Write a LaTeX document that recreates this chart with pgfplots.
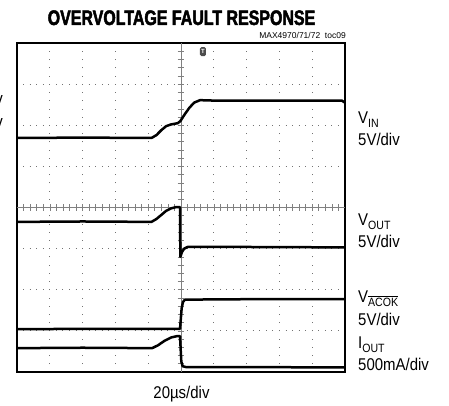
\documentclass[border=0pt]{standalone}
\usepackage{pgfplots}
\pgfplotsset{compat=1.18}
\usepackage{fontspec}
\setmainfont{Liberation Sans}
\newfontfamily\titlefont[FakeStretch=0.76,FakeBold=2.2]{Liberation Sans}
\newfontfamily\labfont[FakeStretch=0.88]{Liberation Sans}
\newcommand\sub[1]{\raisebox{-3.5pt}{\fontsize{12}{12}\selectfont #1}}
\newcommand\ovl[1]{\leavevmode\vbox{\hrule height 0.8pt \kern 1.6pt \hbox{#1}}}
\begin{document}
\begin{tikzpicture}
\path[use as bounding box] (0,0) rectangle (449pt,406pt);
\begin{axis}[
  at={(17pt,34pt)}, anchor=south west,
  width=328pt, height=329pt, scale only axis,
  xmin=0, xmax=10, ymin=0, ymax=8,
  xtick={1,...,9}, ytick={1,...,7},
  xticklabels={}, yticklabels={},
  major tick length=0pt,
  grid=major,
  x grid style={black!55, line width=0.8pt, dash pattern=on 0.9pt off 7.32pt, dash phase=0.45pt},
  y grid style={black!55, line width=0.8pt, dash pattern=on 0.9pt off 5.66pt, dash phase=0.45pt},
  axis line style={line width=2.8pt, black},
  clip=true,
]
% center cross
\draw[black!50, line width=0.6pt] (axis cs:0,4) -- (axis cs:10,4);
\draw[black!50, line width=0.6pt] (axis cs:5,0) -- (axis cs:5,8);
\pgfplotsinvokeforeach{1,...,49}{
  \draw[black!50, line width=0.6pt] (axis cs:#1*0.2,3.92) -- (axis cs:#1*0.2,4.08);
}
\pgfplotsinvokeforeach{1,...,39}{
  \draw[black!50, line width=0.6pt] (axis cs:4.9,#1*0.2) -- (axis cs:5.1,#1*0.2);
}
% VIN
\addplot[black, line width=2.5pt, line join=round] coordinates {
 (0,5.69) (2,5.70) (4.1,5.69) (4.25,5.76) (4.4,5.88) (4.55,5.98) (4.7,6.02) (4.9,6.05) (4.98,6.10)
 (5.1,6.25) (5.25,6.42) (5.4,6.55) (5.58,6.61) (6,6.60) (8,6.60) (9.9,6.60) (10,6.55)};
% VOUT
\addplot[black, line width=2.5pt, line join=round] coordinates {
 (0,3.65) (2,3.66) (4.1,3.65) (4.25,3.72) (4.4,3.82) (4.55,3.92) (4.7,3.98) (4.85,4.01) (4.97,4.01)
 (4.98,2.80) (5.03,2.92) (5.1,3.00) (5.2,3.04) (7,3.04) (10,3.03)};
% VACOK
\addplot[black, line width=2.5pt, line join=round] coordinates {
 (0,1.04) (2,1.05) (4.97,1.05) (4.99,1.25) (5.02,1.55) (5.06,1.70) (5.12,1.76) (7,1.77) (10,1.77)};
% IOUT
\addplot[black, line width=2.5pt, line join=round] coordinates {
 (0,0.58) (2,0.59) (4.12,0.58) (4.3,0.65) (4.5,0.76) (4.7,0.84) (4.87,0.87) (4.97,0.87)
 (4.99,0.55) (5.01,0.25) (5.05,0.14) (5.15,0.12) (7,0.12) (10,0.11)};
% trigger marker
\node[fill=black!70, rounded corners=1.5pt, minimum width=6pt, minimum height=9pt, inner sep=0pt,
  text=white, font=\fontsize{6}{6}\selectfont\bfseries] at (axis cs:5.67,7.79) {T};
\end{axis}
\begin{scope}[shift={(0pt,406pt)}, x=1pt, y=-1pt]
\node[anchor=base, inner sep=0pt, font=\titlefont\bfseries\fontsize{21}{21}\selectfont] at (181.5,25) {OVERVOLTAGE FAULT RESPONSE};
\node[anchor=base east, inner sep=0pt, font=\fontsize{8.5}{8.5}\selectfont] at (346,38.5) {MAX4970/71/72\ \ toc09};
\node[anchor=base, inner sep=0pt, font=\labfont\fontsize{17}{17}\selectfont] at (181.5,399) {20µs/div};
\begin{scope}[every node/.style={anchor=base west, inner sep=0pt, font=\labfont\fontsize{17}{17}\selectfont}]
\node at (358,124) {V\sub{IN}};
\node at (358,146) {5V/div};
\node at (358,226) {V\sub{OUT}};
\node at (358,248) {5V/div};
\node at (358,303) {V\sub{\ovl{ACOK}}};
\node at (358,326) {5V/div};
\node at (358,349) {I\sub{OUT}};
\node at (358,371) {500mA/div};
\node[anchor=base east] at (3,105) {5V/div};
\node[anchor=base east] at (3,128) {5V/div};
\end{scope}
\end{scope}
\end{tikzpicture}
\end{document}
